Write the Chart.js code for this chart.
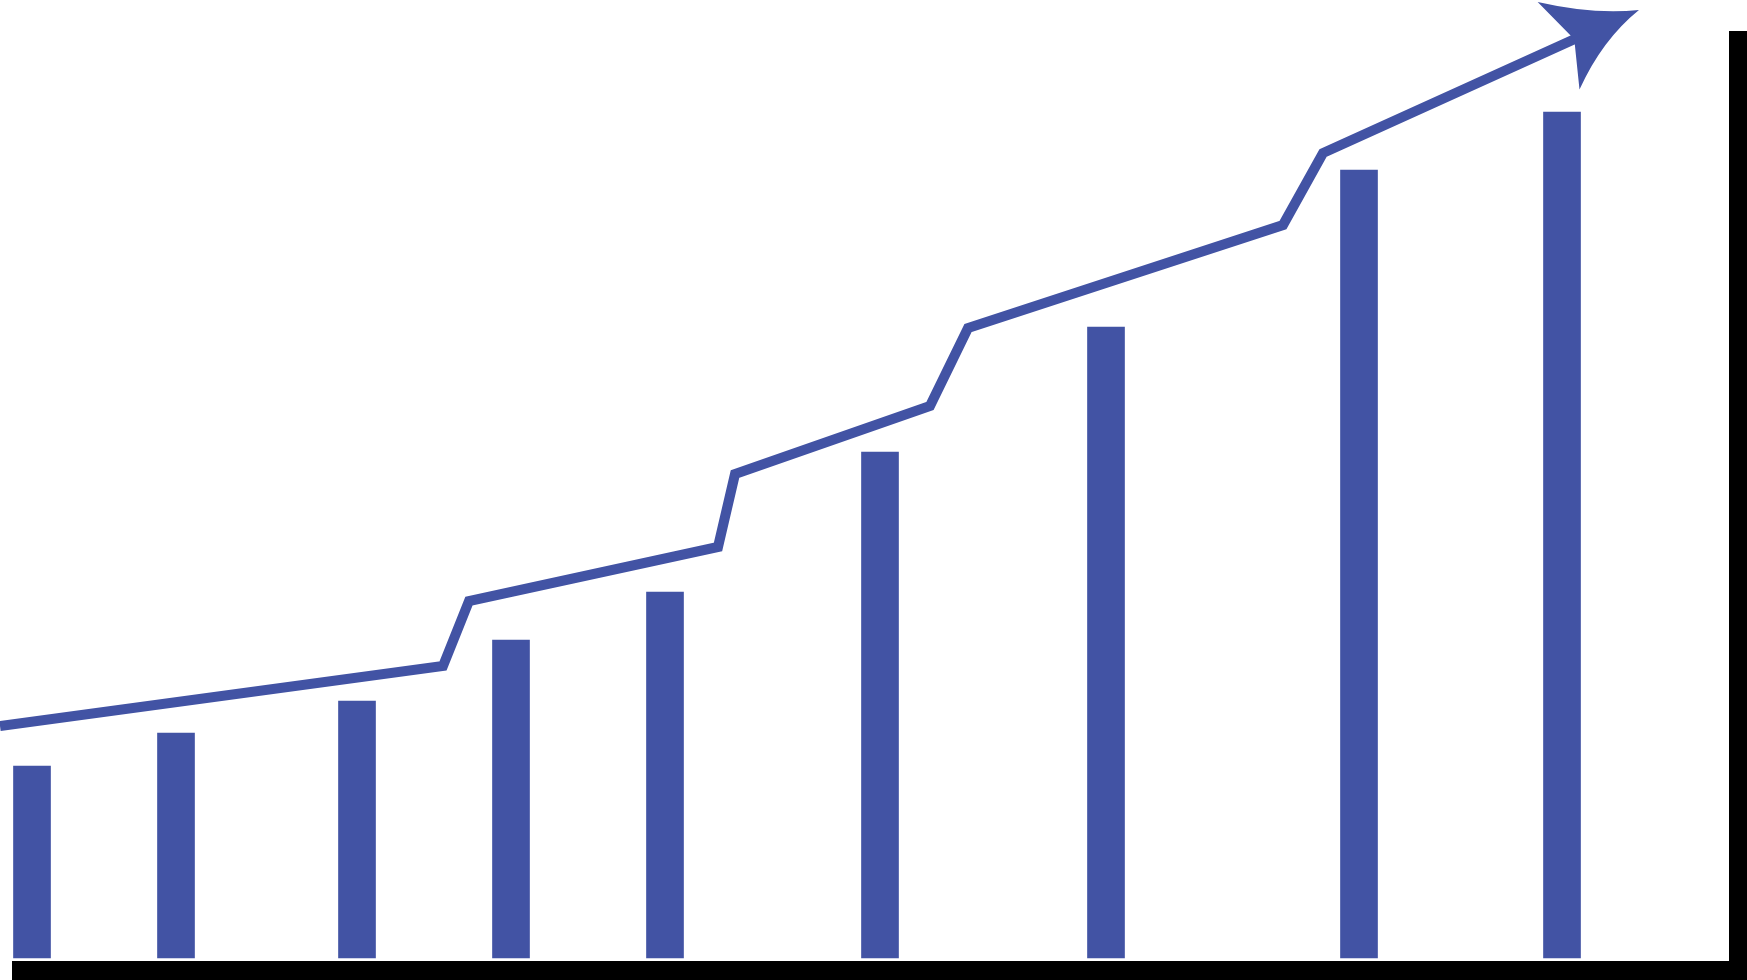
<!DOCTYPE html>
<html>
<head>
<meta charset="utf-8">
<script src="https://cdn.jsdelivr.net/npm/chart.js@4/dist/chart.umd.min.js"></script>
<style>
html,body{margin:0;padding:0;background:#fff;overflow:hidden;}
#wrap{width:1747px;height:980px;}
</style>
</head>
<body>
<div id="wrap"><canvas id="c" width="1747" height="980"></canvas></div>
<script>
// Bar series (positions along x, heights)
const barX = [32, 176, 357, 511, 665, 880, 1106, 1359, 1562];
const barValues = [192, 225, 257, 318, 366, 506, 631, 788, 846];
// Trend line series
const lineX = [0, 443, 469, 718, 735, 930, 968, 1283, 1323, 1577];
const lineValues = [232, 292, 357, 411, 484, 552, 630, 733, 805, 920];

const BLUE = '#4253a4';

const barData = barX.map((x, i) => ({x: x, y: barValues[i]}));
const lineData = lineX.map((x, i) => ({x: x, y: lineValues[i]}));

const framePlugin = {
  id: 'frame',
  beforeDatasetsDraw(chart) {
    const ctx = chart.ctx;
    const xs = chart.scales.x, ys = chart.scales.y;
    ctx.save();
    ctx.fillStyle = '#000';
    const yTop = ys.getPixelForValue(-3);
    ctx.fillRect(xs.getPixelForValue(12), yTop, chart.width, chart.height - yTop);
    const xl = xs.getPixelForValue(1729);
    ctx.fillRect(xl, ys.getPixelForValue(927), chart.width - xl, chart.height);
    ctx.restore();
  },
  afterDatasetsDraw(chart) {
    const meta = chart.getDatasetMeta(1);
    const pts = meta.data;
    const p1 = pts[pts.length - 2], p2 = pts[pts.length - 1];
    const ang = Math.atan2(p2.y - p1.y, p2.x - p1.x);
    const ctx = chart.ctx;
    ctx.save();
    ctx.translate(p2.x, p2.y);
    ctx.rotate(ang);
    ctx.fillStyle = BLUE;
    ctx.beginPath();
    ctx.moveTo(-3, 0);
    ctx.lineTo(-21, -49);
    ctx.quadraticCurveTo(25, -14, 68, 0);
    ctx.quadraticCurveTo(22, 12, -19, 48);
    ctx.closePath();
    ctx.fill();
    ctx.restore();
  }
};

new Chart(document.getElementById('c'), {
  type: 'bar',
  data: {
    datasets: [
      {
        type: 'bar',
        data: barData,
        backgroundColor: BLUE,
        borderWidth: 0,
        barThickness: 37,
        order: 2
      },
      {
        type: 'line',
        data: lineData,
        borderColor: BLUE,
        backgroundColor: BLUE,
        borderWidth: 10,
        pointRadius: 0,
        tension: 0,
        fill: false,
        borderJoinStyle: 'miter',
        borderCapStyle: 'butt',
        clip: false,
        order: 1
      }
    ]
  },
  options: {
    responsive: false,
    animation: false,
    devicePixelRatio: 1,
    layout: {padding: 0},
    plugins: {legend: {display: false}, tooltip: {enabled: false}, title: {display: false}},
    scales: {
      x: {type: 'linear', min: 0, max: 1747, offset: false, display: false},
      y: {type: 'linear', min: -22, max: 958, display: false}
    }
  },
  plugins: [framePlugin]
});
</script>
</body>
</html>
